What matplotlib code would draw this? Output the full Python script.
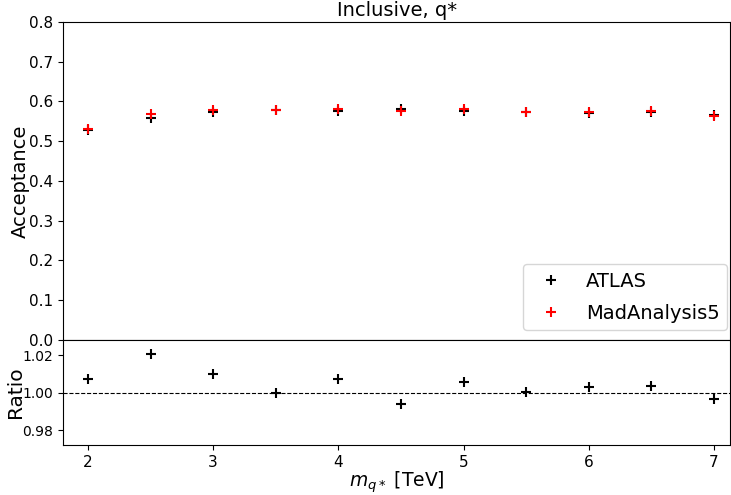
import matplotlib
matplotlib.use('Agg')
import matplotlib.pyplot as plt
import numpy as np

# q* masses in TeV
mass = [2.0, 2.5, 3.0, 3.5, 4.0, 4.5, 5.0, 5.5, 6.0, 6.5, 7.0]
acc_atlas = [0.527, 0.558, 0.572, 0.578, 0.576, 0.581, 0.577, 0.574, 0.571, 0.573, 0.566]
acc_ma5 = [0.531, 0.569, 0.578, 0.578, 0.580, 0.577, 0.581, 0.574, 0.572, 0.575, 0.564]
ratio = [1.0072, 1.0204, 1.0097, 0.9996, 1.0072, 0.9939, 1.0054, 1.0004, 1.0027, 1.0034, 0.9966]

fig = plt.figure(figsize=(7.31, 4.95), dpi=100)
ax1 = fig.add_axes([0.086, 0.313, 0.913, 0.643])
ax2 = fig.add_axes([0.086, 0.101, 0.913, 0.212], sharex=ax1)

ax1.plot(mass, acc_atlas, '+', color='black', ms=6.5, mew=1.5, label='ATLAS')
ax1.plot(mass, acc_ma5, '+', color='red', ms=6.5, mew=1.5, label='MadAnalysis5')
ax1.set_ylim(0, 0.8)
ax1.set_xlim(1.8, 7.13)
ax1.set_ylabel('Acceptance', fontsize=14)
ax1.yaxis.set_label_coords(-0.049, 0.5)
ax1.set_title('Inclusive, q*', fontsize=14, pad=4)
ax1.tick_params(axis='x', bottom=False, labelbottom=False)
ax1.tick_params(axis='y', labelsize=11)
ax1.legend(loc='lower right', bbox_to_anchor=(1.01, 0.0), fontsize=14,
           labelspacing=0.65)

ax2.plot(mass, ratio, '+', color='black', ms=6.5, mew=1.5)
ax2.axhline(1.0, color='black', linestyle='--', linewidth=0.8)
ax2.set_ylim(0.972, 1.028)
ax2.set_yticks([0.98, 1.00, 1.02])
ax2.tick_params(axis='y', labelsize=10)
ax2.tick_params(axis='x', labelsize=11)
ax2.set_ylabel('Ratio', fontsize=14.5)
ax2.yaxis.set_label_coords(-0.057, 0.5)
ax2.set_xlabel('$m_{q*}$ [TeV]', fontsize=13.5, labelpad=0)

fig.savefig('out.png', dpi=100)
